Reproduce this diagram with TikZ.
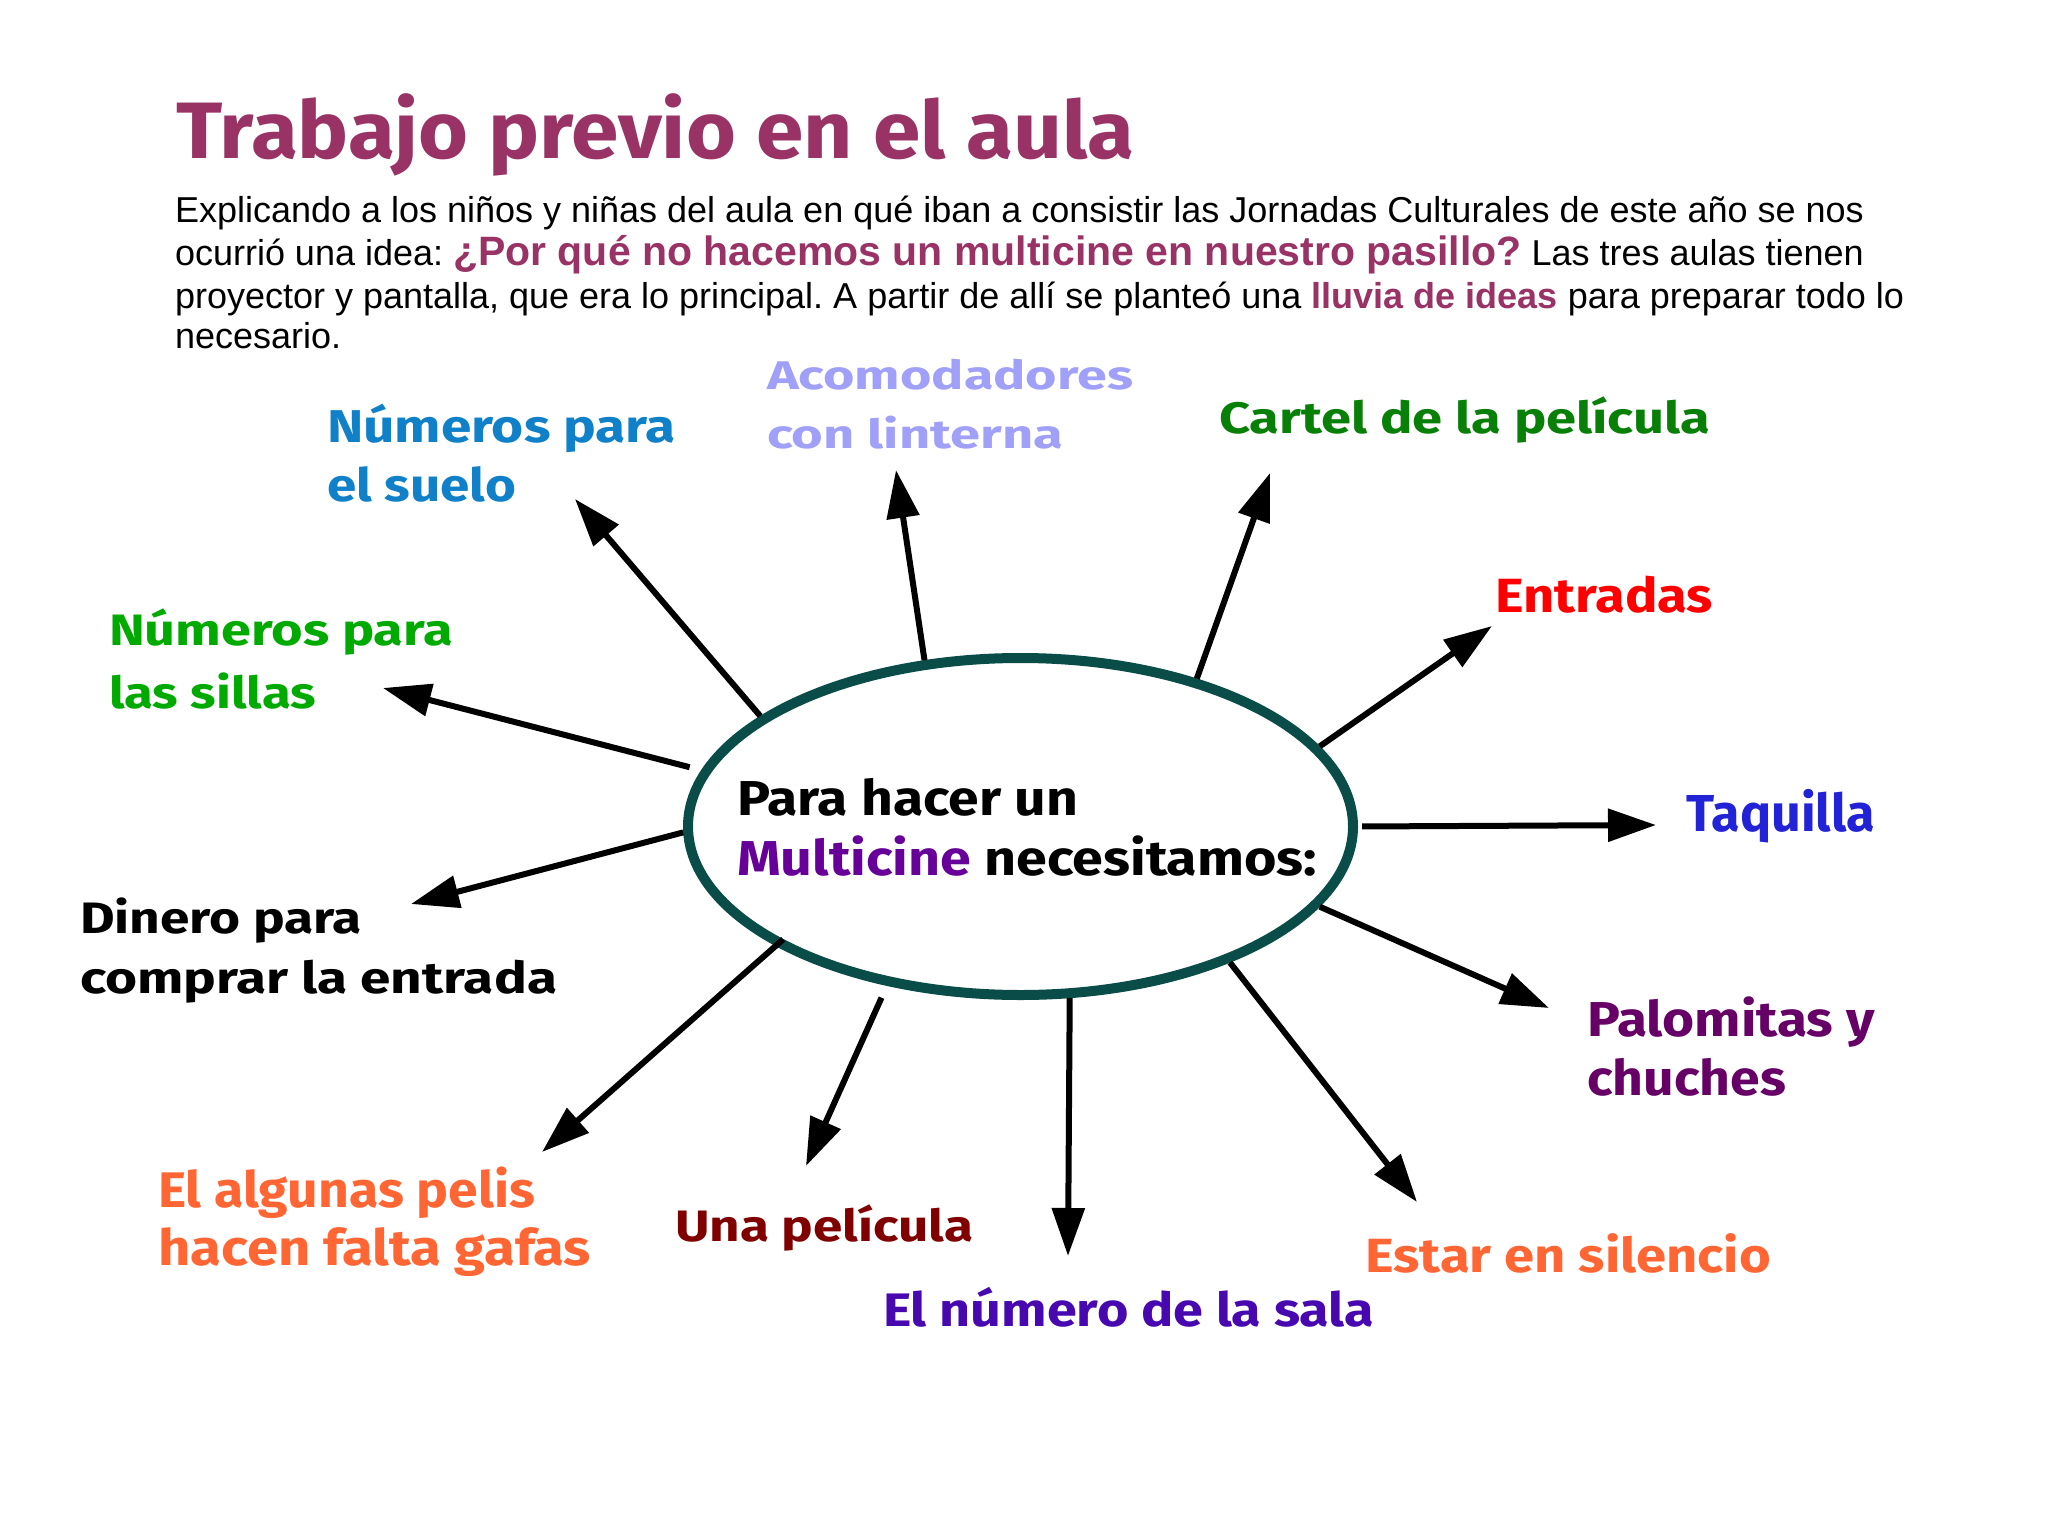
\documentclass[tikz,border=0pt]{standalone}
\usepackage{fontspec}
\usepackage{graphicx}
\setmainfont{Liberation Sans}
\newfontfamily\lblfont{Fira Sans}
\usetikzlibrary{arrows.meta,shapes.geometric}
\frenchspacing
\definecolor{plum}{RGB}{153,51,102}
\definecolor{ringc}{RGB}{10,77,72}
\definecolor{cSuelo}{RGB}{16,128,200}
\definecolor{cAcom}{RGB}{160,160,248}
\definecolor{cCartel}{RGB}{8,128,8}
\definecolor{cEntr}{RGB}{255,0,0}
\definecolor{cTaq}{RGB}{34,34,214}
\definecolor{cPalo}{RGB}{102,0,102}
\definecolor{cOrange}{RGB}{255,102,51}
\definecolor{cSala}{RGB}{72,8,176}
\definecolor{cPeli}{RGB}{128,0,0}
\definecolor{cSillas}{RGB}{0,170,0}
\definecolor{cMulti}{RGB}{102,0,153}
\newcommand\fitw[2]{\resizebox{#1}{\height}{#2}}
\begin{document}
\begin{tikzpicture}[x=0.5pt,y=-0.5pt,
  lbl/.style={anchor=base west, inner sep=0pt, outer sep=0pt},
  lf/.style={font=\lblfont\bfseries\fontsize{#1}{#1}\selectfont},
  body/.style={anchor=base west, inner sep=0pt, outer sep=0pt, font=\fontsize{18}{21.5}\selectfont},
  arr/.style={line width=3pt, -{Triangle[length=24pt,width=16pt]}}]
\useasboundingbox[fill=white] (0,0) rectangle (2048,1535);

% title and intro
\node[lbl, lf=40, text=plum] (title) at (176,159) {\fitw{479pt}{Trabajo previo en el aula}};
\node[body] (b1) at (175,223) {Explicando a los niños y niñas del aula en qué iban a consistir las Jornadas Culturales de este año se nos};
\node[body] (b2) at (175,266) {ocurrió una idea: {\color{plum}\bfseries\fontsize{20.5}{24}\selectfont ¿Por qué no hacemos un multicine en nuestro pasillo?} Las tres aulas tienen};
\node[body] (b3) at (175,309) {proyector y pantalla, que era lo principal. A partir de allí se planteó una {\color{plum}\bfseries lluvia de ideas} para preparar todo lo};
\node[body] (b4) at (175,349) {necesario.};

% central ellipse
\node[draw=ringc, line width=5pt, ellipse, minimum width=332.5pt, minimum height=168.5pt, inner sep=0pt] (ell) at (1020.5,826.5) {};
\node[lbl, lf=24.5] (c1) at (737,815) {\fitw{170.5pt}{Para hacer un}};
\node[lbl, lf=24.5] (c2) at (737,875) {\fitw{290pt}{\textcolor{cMulti}{Multicine} necesitamos:}};

% labels
\node[lbl, lf=23, text=cSuelo] (l1a) at (327,442) {\fitw{174.5pt}{Números para}};
\node[lbl, lf=23, text=cSuelo] (l1b) at (327,501) {\fitw{94.5pt}{el suelo}};
\node[lbl, lf=20, text=cAcom] (l2a) at (767,389) {\fitw{183pt}{Acomodadores}};
\node[lbl, lf=20, text=cAcom] (l2b) at (767,448) {\fitw{148pt}{con linterna}};
\node[lbl, lf=22, text=cCartel] (l3) at (1219,433) {\fitw{245.5pt}{Cartel de la película}};
\node[lbl, lf=24, text=cEntr] (l4) at (1495,612) {\fitw{109pt}{Entradas}};
\node[lbl, lf=26, text=cTaq] (l5) at (1686,831) {\fitw{94.5pt}{Taquilla}};
\node[lbl, lf=24.5, text=cPalo] (l6a) at (1587,1036) {\fitw{144pt}{Palomitas y}};
\node[lbl, lf=24.5, text=cPalo] (l6b) at (1587,1095) {\fitw{99.5pt}{chuches}};
\node[lbl, lf=24, text=cOrange] (l7) at (1365,1272) {\fitw{203pt}{Estar en silencio}};
\node[lbl, lf=23.5, text=cSala] (l8) at (883,1326) {\fitw{245.5pt}{El número de la sala}};
\node[lbl, lf=22, text=cPeli] (l9) at (675,1241) {\fitw{149pt}{Una película}};
\node[lbl, lf=25, text=cOrange] (l10a) at (158,1207) {\fitw{188.5pt}{El algunas pelis}};
\node[lbl, lf=25, text=cOrange] (l10b) at (158,1265) {\fitw{216.5pt}{hacen falta gafas}};
\node[lbl, lf=22, text=black] (l11a) at (80,933) {\fitw{141pt}{Dinero para}};
\node[lbl, lf=22, text=black] (l11b) at (80,993) {\fitw{238.5pt}{comprar la entrada}};
\node[lbl, lf=22, text=cSillas] (l12a) at (109,645) {\fitw{172pt}{Números para}};
\node[lbl, lf=22, text=cSillas] (l12b) at (109,708) {\fitw{103.5pt}{las sillas}};

% arrow tips
\coordinate (t1) at (575,499);
\coordinate (t2) at (896,470);
\coordinate (t3) at (1270,473);
\coordinate (t4) at (1492,626);
\coordinate (t5) at (1656,825);
\coordinate (t6) at (1549,1008);
\coordinate (t7) at (1417,1202);
\coordinate (t8) at (1068,1256);
\coordinate (t9) at (806,1166);
\coordinate (t10) at (542,1152);
\coordinate (t11) at (411,904);
\coordinate (t12) at (383,688);

\draw[arr] (ell.157) -- (t1);
\draw[arr] (ell.120.3) -- (t2);
\draw[arr] (ell.40.7) -- (t3);
\draw[arr] (ell.15.9) -- (t4);
\draw[arr, shorten <=2pt] (ell.0) -- (t5);
\draw[arr] (ell.-15.9) -- (t6);
\draw[arr] (ell.-33.5) -- (t7);
\draw[arr] (ell.-74.3) -- (t8);
\draw[arr, shorten <=6.5pt] (ell.-130.6) -- (t9);
\draw[arr, shorten <=-5pt] (ell.-154.8) -- (t10);
\draw[arr] (ell.-179.1) -- (t11);
\draw[arr, shorten <=6pt] (ell.170.9) -- (t12);
\end{tikzpicture}
\end{document}
